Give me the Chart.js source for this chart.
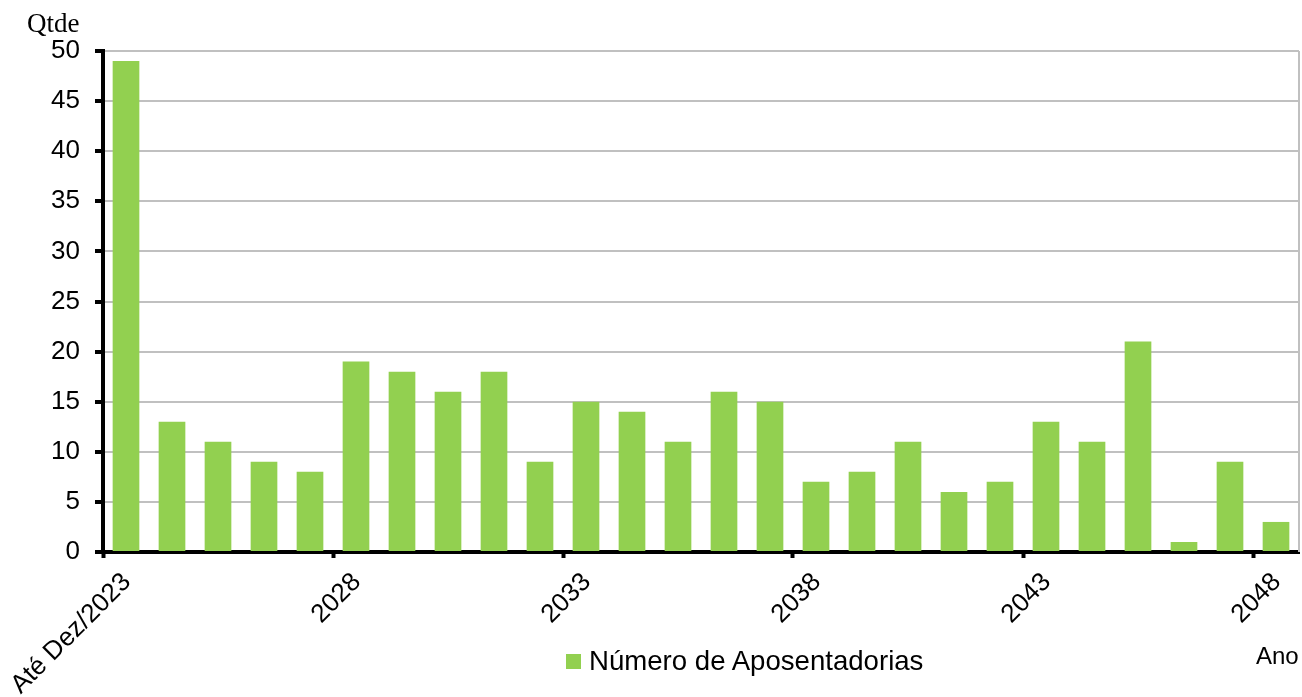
<!DOCTYPE html>
<html>
<head>
<meta charset="utf-8">
<script src="https://cdn.jsdelivr.net/npm/chart.js@4/dist/chart.umd.min.js"></script>
<style>
    body { margin: 0; background: #fff; }
    .wrap { position: relative; width: 1302px; height: 697px; }
    .qtde { position: absolute; left: 27px; top: 8px; font: 27px "Liberation Serif", serif; color: #000; }
    .ano { position: absolute; left: 1256px; top: 642px; font: 24px "Liberation Sans", sans-serif; color: #000; }
    .legend { position: absolute; left: 566px; top: 645px; display: flex; align-items: center; font: 27.6px "Liberation Sans", sans-serif; color: #000; }
    .legend-color { width: 15px; height: 15px; margin-right: 8px; }
</style>
</head>
<body>
<div class="wrap">
    <canvas id="chart" width="1302" height="697"></canvas>
    <div class="qtde">Qtde</div>
    <div class="ano">Ano</div>
    <div class="legend" id="legend"></div>
</div>
<script>
// Categories and values
const years = ['Até Dez/2023', '2024', '2025', '2026', '2027', '2028', '2029', '2030', '2031', '2032',
    '2033', '2034', '2035', '2036', '2037', '2038', '2039', '2040', '2041', '2042',
    '2043', '2044', '2045', '2046', '2047', '2048'];
const aposentadorias = [49, 13, 11, 9, 8, 19, 18, 16, 18, 9, 15, 14, 11, 16, 15, 7, 8, 11, 6, 7, 13, 11, 21, 1, 9, 3];
const yTicks = [0, 5, 10, 15, 20, 25, 30, 35, 40, 45, 50];
const xLabelIdx = [0, 5, 10, 15, 20, 25];

const seriesLabel = 'Número de Aposentadorias';
const barColor = '#92d050';

// right border of the plot area
const rightBorder = {
    id: 'rightBorder',
    afterDraw(chart) {
        const { ctx, chartArea } = chart;
        ctx.save();
        ctx.strokeStyle = '#c0c0c0';
        ctx.lineWidth = 2;
        ctx.beginPath();
        ctx.moveTo(chartArea.right, chartArea.top);
        ctx.lineTo(chartArea.right, chartArea.bottom);
        ctx.stroke();
        ctx.restore();
    }
};

const ctx = document.getElementById('chart').getContext('2d');
new Chart(ctx, {
    type: 'bar',
    data: {
        labels: years,
        datasets: [{
            label: seriesLabel,
            data: aposentadorias,
            backgroundColor: barColor,
            borderWidth: 0,
            barPercentage: 0.58,
            categoryPercentage: 1
        }]
    },
    options: {
        responsive: false,
        animation: false,
        layout: { padding: { left: 0, top: 51, right: 3, bottom: 0 } },
        plugins: {
            legend: { display: false },
            tooltip: { enabled: false }
        },
        scales: {
            x: {
                display: false
            },
            // tick marks and labels sit on the category boundaries
            xt: {
                type: 'linear',
                position: 'bottom',
                offset: false,
                bounds: 'data',
                min: -0.5,
                max: years.length - 0.5,
                afterBuildTicks(axis) {
                    axis.ticks = xLabelIdx.map(i => ({ value: i - 0.5 }));
                },
                afterFit(axis) {
                    axis.height = 145;
                    axis.paddingLeft = 0;
                    axis.paddingRight = 0;
                },
                border: { color: '#000', width: 4 },
                grid: {
                    offset: false,
                    drawOnChartArea: false,
                    tickLength: 6,
                    tickColor: '#000',
                    tickWidth: 4
                },
                ticks: {
                    autoSkip: false,
                    minRotation: 45,
                    maxRotation: 45,
                    labelOffset: 24,
                    padding: 9,
                    color: '#000',
                    font: { family: 'Liberation Sans', size: 26 },
                    callback: (v) => years[Math.round(v + 0.5)]
                }
            },
            y: {
                min: 0,
                max: 50,
                afterBuildTicks(axis) {
                    axis.ticks = yTicks.map(v => ({ value: v }));
                },
                afterFit(axis) {
                    axis.width = 103;
                },
                border: { color: '#000', width: 4 },
                grid: {
                    color: '#c0c0c0',
                    lineWidth: 2,
                    tickLength: 8,
                    tickColor: '#000',
                    tickWidth: 4
                },
                ticks: {
                    padding: 15,
                    color: '#000',
                    font: { family: 'Liberation Sans', size: 26 }
                }
            }
        }
    },
    plugins: [rightBorder]
});

// legend
document.getElementById('legend').innerHTML = `
    <div class="legend-color" style="background-color: ${barColor}"></div>
    <span>${seriesLabel}</span>
`;
</script>
</body>
</html>
